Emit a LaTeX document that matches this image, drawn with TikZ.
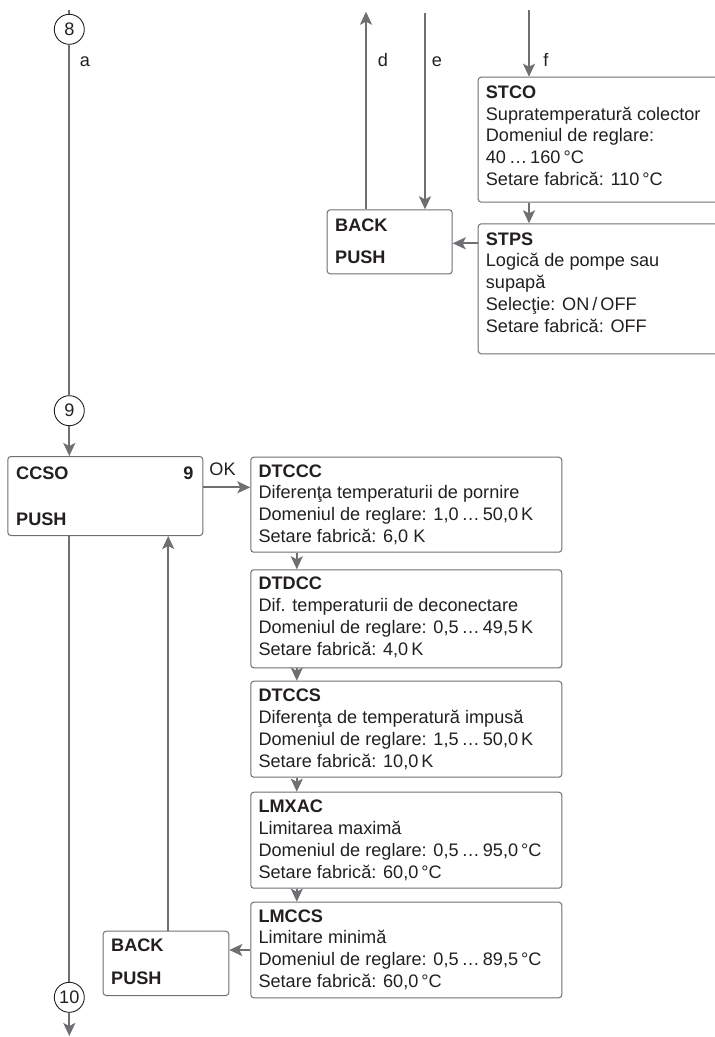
\documentclass[tikz,border=0pt]{standalone}
\usepackage{fontspec}
\setmainfont{Liberation Sans}
\usetikzlibrary{arrows.meta}
\definecolor{lc}{RGB}{110,111,114}
\definecolor{tc}{RGB}{35,31,32}
\newcommand\boxlines[3]{%
  \foreach \t [count=\i, evaluate=\i as \dy using -#2-21.8*(\i-1)] in {#3}
    \node[txt] (#1-l\i) at ([shift={(8bp,\dy bp)}]#1.north west) {\t};%
}
\begin{document}
\begin{tikzpicture}[x=1bp,y=-1bp,
  font=\fontsize{18.2}{21.8}\selectfont,
  box/.style={draw=lc, line width=1bp, rounded corners=3bp, anchor=north west, inner sep=0},
  txt/.style={anchor=base west, inner sep=0, text=tc},
  lbl/.style={anchor=base, inner sep=0, text=tc},
  arr/.style={draw=lc, line width=1.8bp, -{Stealth[length=13bp,width=12bp,inset=3bp]}},
  ln/.style={draw=lc, line width=1.8bp},
  num/.style={circle, draw=tc, line width=0.9bp, minimum size=30bp, inner sep=0, text=tc},
]
\useasboundingbox (0,0) rectangle (715,1037);
\clip (0,0) rectangle (715,1037);

% circles
\node[num] (c8) at (69.3,29.3) {8};
\node[num] (c9) at (69.3,410.7) {9};
\node[num] (c10) at (69.3,997.3) {10};

% boxes
\node[box, minimum width=125bp, minimum height=64bp] (back1) at (326.7,209.3) {};
\node[box, minimum width=262bp, minimum height=125bp] (stco) at (477.7,76.7) {};
\node[box, minimum width=262bp, minimum height=130bp] (stps) at (477.7,223.3) {};
\node[box, minimum width=195bp, minimum height=79bp] (ccso) at (7.3,456) {};
\node[box, minimum width=311bp, minimum height=95bp] (dtccc) at (250.3,456.7) {};
\node[box, minimum width=311bp, minimum height=98bp] (dtdcc) at (250.3,569.3) {};
\node[box, minimum width=311bp, minimum height=96bp] (dtccs) at (250.3,680.7) {};
\node[box, minimum width=311bp, minimum height=96bp] (lmxac) at (250.3,791.7) {};
\node[box, minimum width=311bp, minimum height=95.6bp] (lmccs) at (250.3,901.7) {};
\node[box, minimum width=125.6bp, minimum height=64.3bp] (back2) at (102.7,930.7) {};

% box texts
\boxlines{stco}{21.6}{{\textbf{STCO}},{Supratemperatură colector},{Domeniul de reglare:},{40\,…\,160\,°C},{Setare fabrică: 110\,°C}}
\boxlines{stps}{21.7}{{\textbf{STPS}},{Logică de pompe sau},{supapă},{Selecţie: ON\,/\,OFF},{Setare fabrică: OFF}}
\boxlines{dtccc}{20.3}{{\textbf{DTCCC}},{Diferenţa temperaturii de pornire},{Domeniul de reglare: 1,0\,…\,50,0\,K},{Setare fabrică: 6,0 K}}
\boxlines{dtdcc}{20.3}{{\textbf{DTDCC}},{Dif. temperaturii de deconectare},{Domeniul de reglare: 0,5\,…\,49,5\,K},{Setare fabrică: 4,0\,K}}
\boxlines{dtccs}{21}{{\textbf{DTCCS}},{Diferenţa de temperatură impusă},{Domeniul de reglare: 1,5\,…\,50,0\,K},{Setare fabrică: 10,0\,K}}
\boxlines{lmxac}{21}{{\textbf{LMXAC}},{Limitarea maximă},{Domeniul de reglare: 0,5\,…\,95,0\,°C},{Setare fabrică: 60,0\,°C}}
\boxlines{lmccs}{20.3}{{\textbf{LMCCS}},{Limitare minimă},{Domeniul de reglare: 0,5\,…\,89,5\,°C},{Setare fabrică: 60,0\,°C}}

\node[txt] (back1-b) at ([shift={(8.3bp,-21.7bp)}]back1.north west) {\textbf{BACK}};
\node[txt] (back1-p) at ([shift={(8.3bp,-53.7bp)}]back1.north west) {\textbf{PUSH}};
\node[txt] (back2-b) at ([shift={(8.3bp,-21bp)}]back2.north west) {\textbf{BACK}};
\node[txt] (back2-p) at ([shift={(8.3bp,-53.3bp)}]back2.north west) {\textbf{PUSH}};
\node[txt] (ccso-t) at ([shift={(8.7bp,-23.3bp)}]ccso.north west) {\textbf{CCSO}};
\node[txt] (ccso-p) at ([shift={(8.7bp,-69bp)}]ccso.north west) {\textbf{PUSH}};
\node[txt, anchor=base east] (ccso-n) at ([shift={(-9.6bp,-23.3bp)}]ccso.north east) {\textbf{9}};

% labels
\node[lbl] (la) at (85,66.7) {a};
\node[lbl] (ld) at (383,66.7) {d};
\node[lbl] (le) at (437,66.7) {e};
\node[lbl] (lf) at (546,66.7) {f};
\node[lbl] (lok) at (222.5,475) {OK};

% main line a
\coordinate (atop) at (69.3,10);
\coordinate (abot) at (69.3,1036);
\draw[ln] (atop) -- (c8.north);
\draw[ln] (c8.south) -- (c9.north);
\draw[arr] (c9.south) -- (c9.south |- ccso.north);
\draw[ln] (c10.north |- ccso.south) -- (c10.north);
\draw[arr] (c10.south) -- (abot);

% top arrows
\coordinate (dtop) at (366,11.7);
\coordinate (etop) at (425,12.7);
\coordinate (ftop) at (529,10);
\draw[arr] (dtop |- back1.north) -- (dtop);
\draw[arr] (etop) -- (etop |- back1.north);
\draw[arr] (ftop) -- (ftop |- stco.north);
\draw[arr] (ftop |- stco.south) -- (ftop |- stps.north);
\path ([yshift=-20bp]stps.north west) coordinate (s1);
\draw[arr] (s1) -- (s1 -| back1.east);

% CCSO arrows
\path ([yshift=-31.3bp]ccso.north east) coordinate (o1);
\draw[arr] (o1) -- (o1 -| dtccc.west);
\path ([xshift=2.2bp]back2.north) coordinate (u1);
\draw[arr] (u1) -- (u1 |- ccso.south);

% chain
\draw[arr] ([xshift=46.5bp]dtccc.south west) -- ([xshift=46.5bp]dtdcc.north west);
\draw[arr] ([xshift=46.5bp]dtdcc.south west) -- ([xshift=46.5bp]dtccs.north west);
\draw[arr] ([xshift=46.5bp]dtccs.south west) -- ([xshift=46.5bp]lmxac.north west);
\draw[arr] ([xshift=46.5bp]lmxac.south west) -- ([xshift=46.5bp]lmccs.north west);
\path ([yshift=-48.3bp]lmccs.north west) coordinate (s2);
\draw[arr] (s2) -- (s2 -| back2.east);
\end{tikzpicture}
\end{document}
